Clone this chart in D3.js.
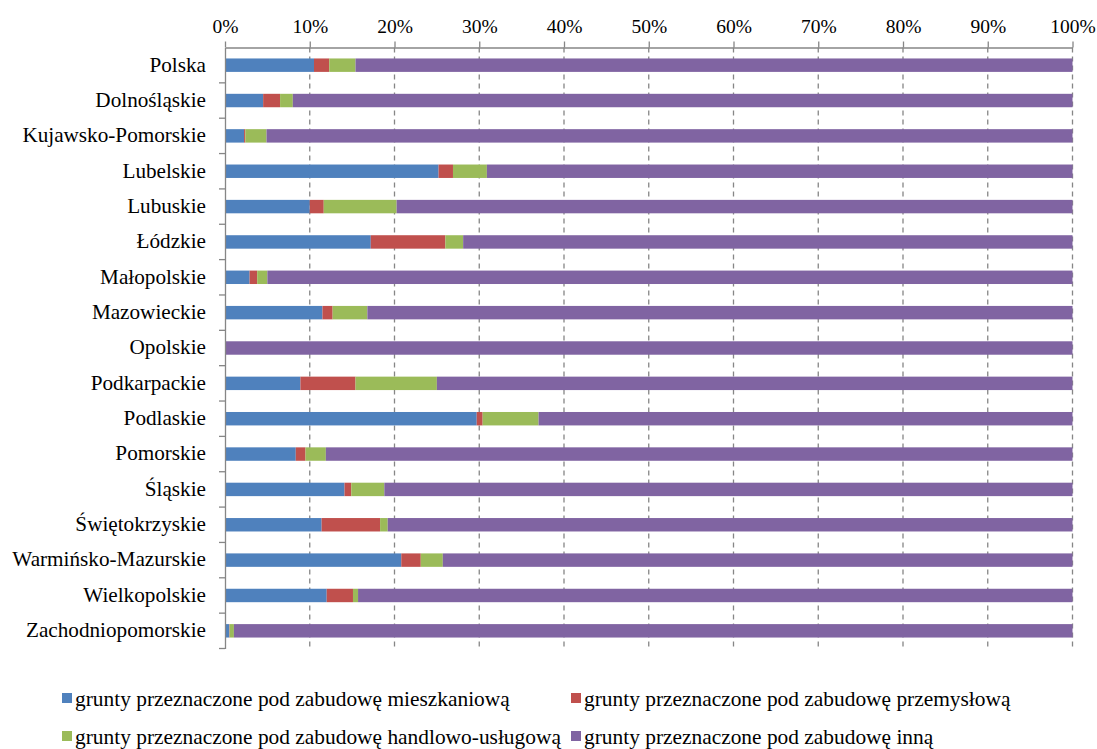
<!DOCTYPE html>
<html><head><meta charset="utf-8">
<script src="https://cdn.jsdelivr.net/npm/d3@7"></script>
<style>body{margin:0;background:#fff}svg{display:block}svg text{font-family:"Liberation Serif","Times New Roman",serif !important;}</style>
</head><body>
<svg id="c" width="1097" height="749"></svg>
<script>
const categories = ["Polska","Dolnośląskie","Kujawsko-Pomorskie","Lubelskie","Lubuskie","Łódzkie","Małopolskie","Mazowieckie","Opolskie","Podkarpackie","Podlaskie","Pomorskie","Śląskie","Świętokrzyskie","Warmińsko-Mazurskie","Wielkopolskie","Zachodniopomorskie"];
const mieszkaniowa   = [10.5, 4.5, 2.25, 25.2, 10.0, 17.2, 2.9, 11.5, 0, 8.9, 29.7, 8.35, 14.1, 11.4, 20.8, 12.0, 0.5];
const przemyslowa    = [1.8, 2.0, 0.15, 1.7, 1.65, 8.8, 0.9, 1.2, 0, 6.5, 0.7, 1.15, 0.8, 6.9, 2.3, 3.1, 0.05];
const handlowo       = [3.1, 1.5, 2.5, 4.0, 8.6, 2.1, 1.2, 4.1, 0, 9.6, 6.6, 2.4, 3.9, 0.9, 2.6, 0.6, 0.5];
const inna           = [84.6, 92.0, 95.1, 69.1, 79.75, 71.9, 95.0, 83.2, 100, 75.0, 63.0, 88.1, 81.2, 80.8, 74.3, 84.3, 98.95];
const seriesNames = ["grunty przeznaczone pod zabudowę mieszkaniową","grunty przeznaczone pod zabudowę przemysłową","grunty przeznaczone pod zabudowę handlowo-usługową","grunty przeznaczone pod zabudowę inną"];
const colors = ["#4F81BD","#C0504D","#9BBB59","#8064A2"];
const tickValues = [0,0.1,0.2,0.3,0.4,0.5,0.6,0.7,0.8,0.9,1];

const seriesData = [mieszkaniowa, przemyslowa, handlowo, inna];
const rows = categories.map((c,i)=>{
  const o = {cat:c};
  const tot = seriesData.reduce((s,a)=>s+a[i],0);
  seriesData.forEach((a,k)=>o["s"+k]=a[i]/tot);
  return o;
});
const stack = d3.stack().keys(["s0","s1","s2","s3"])(rows);

const svg = d3.select("#c");
const x = d3.scaleLinear().domain([0,1]).range([225,1072.5]);
const y = d3.scaleBand().domain(categories).range([47.5,648.5]).paddingInner(0.62).paddingOuter(0.31);
const yb = d3.scaleBand().domain(categories).range([47.5,648.5]);

// gridlines
svg.append("g").selectAll("line").data(tickValues.slice(1)).join("line")
  .attr("x1",d=>x(d)).attr("x2",d=>x(d)).attr("y1",47.5).attr("y2",648.5)
  .attr("stroke","#868686").attr("stroke-width",1.3).attr("stroke-dasharray","5,4");

// bars
svg.append("g").selectAll("g").data(stack).join("g")
  .attr("fill",(d,i)=>colors[i])
  .selectAll("rect").data(d=>d).join("rect")
  .attr("x",d=>x(d[0])).attr("width",d=>Math.max(0,x(d[1])-x(d[0])))
  .attr("y",d=>y(d.data.cat)).attr("height",y.bandwidth());

// top axis
const ax = d3.axisTop(x).tickValues(tickValues).tickFormat(d3.format(".0%")).tickSize(6).tickSizeOuter(0);
const gx = svg.append("g").attr("transform","translate(0,47.5)").call(ax);
gx.select(".domain").attr("stroke","#868686").attr("stroke-width",1.3);
gx.selectAll(".tick line").attr("stroke","#868686").attr("stroke-width",1.3);
gx.selectAll("text").attr("font-size",19.5).attr("fill","#000").attr("dy","-0.3em");

// left axis
const ay = d3.axisLeft(yb).tickSize(0).tickPadding(19);
const gy = svg.append("g").attr("transform","translate(225,0)").call(ay);
gy.select(".domain").attr("stroke","#868686").attr("stroke-width",1.3);
gy.selectAll("text").attr("font-size",21.2).attr("fill","#000").attr("dy","0.3em");
// tick marks between categories
const bounds = d3.range(categories.length+1).map(i=>47.5+i*yb.step());
svg.append("g").selectAll("line").data(bounds.slice(1)).join("line")
  .attr("x1",219).attr("x2",225).attr("y1",d=>d).attr("y2",d=>d)
  .attr("stroke","#868686").attr("stroke-width",1.3);

// legend
const legPos = [[62,706],[571,706],[62,744],[571,744]];
const lg = svg.append("g").selectAll("g").data(seriesNames).join("g")
  .attr("transform",(d,i)=>`translate(${legPos[i][0]},${legPos[i][1]})`);
lg.append("rect").attr("x",0).attr("y",-13).attr("width",10).attr("height",10).attr("fill",(d,i)=>colors[i]);
lg.append("text").attr("x",13).attr("y",0).attr("font-size",21.4).attr("fill","#000").text(d=>d);
</script>
</body></html>
